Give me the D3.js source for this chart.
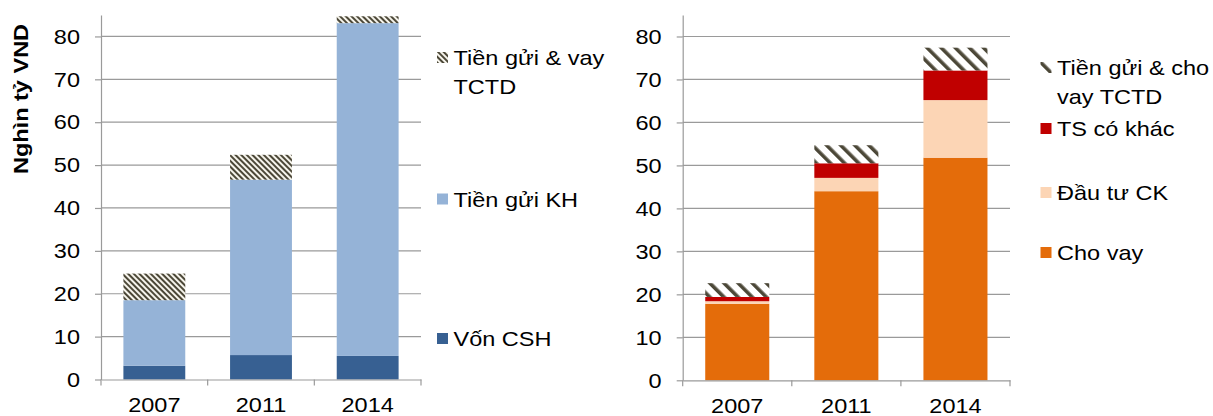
<!DOCTYPE html>
<html>
<head>
<meta charset="utf-8">
<script src="https://cdn.jsdelivr.net/npm/d3@7"></script>
<style>
  html, body { margin: 0; padding: 0; background: #fff; }
  svg { display: block; }
  text { font-family: "Liberation Sans", Arial, sans-serif; fill: #000; }
</style>
</head>
<body>
<svg id="chart" width="1213" height="416"></svg>
<script>
// Years on the category axis
const years = ["2007", "2011", "2014"];

// Left panel: funding sources (nghìn tỷ VND)
const vonCSH = [3.2, 5.7, 5.5];
const tienGuiKH = [15.3, 40.9, 77.6];
const tienGuiVayTCTD = [6.2, 5.8, 1.6];

// Right panel: asset uses (nghìn tỷ VND)
const choVay = [17.8, 44.0, 51.8];
const dauTuCK = [0.6, 3.1, 13.4];
const tsCoKhac = [1.0, 3.4, 6.9];
const tienGuiChoVayTCTD = [3.2, 4.2, 5.3];

// Value axis
const yTicks = [0, 10, 20, 30, 40, 50, 60, 70, 80];
const yMax = 85;

const leftSeries = [
  { key: "Vốn CSH", values: vonCSH, fill: "#376092" },
  { key: "Tiền gửi KH", values: tienGuiKH, fill: "#95b3d7" },
  { key: "Tiền gửi & vay TCTD", values: tienGuiVayTCTD, fill: "url(#hatchFine)" }
];
const rightSeries = [
  { key: "Cho vay", values: choVay, fill: "#e46c0a" },
  { key: "Đầu tư CK", values: dauTuCK, fill: "#fcd5b5" },
  { key: "TS có khác", values: tsCoKhac, fill: "#c00000" },
  { key: "Tiền gửi & cho vay TCTD", values: tienGuiChoVayTCTD, fill: "url(#hatchWide)" }
];

// Text is drawn slightly wide
const SX = 1.12;
const FS = 21;
const gridColor = "#9a9a9a";

const svg = d3.select("#chart");
const defs = svg.append("defs");

function hatch(id, period, dark, bg) {
  const p = defs.append("pattern")
    .attr("id", id)
    .attr("patternUnits", "userSpaceOnUse")
    .attr("width", period).attr("height", period)
    .attr("patternTransform", "rotate(-45)");
  p.append("rect").attr("width", period).attr("height", period).attr("fill", bg);
  p.append("rect").attr("width", dark).attr("height", period).attr("fill", "#4c4838");
}
hatch("hatchFine", 4, 2, "#f6f4ec");
hatch("hatchWide", 10, 3.6, "#ffffff");

function panel(cfg) {
  const g = svg.append("g");
  const x = d3.scaleBand().domain(years)
    .range([cfg.x0, cfg.x1])
    .paddingInner(cfg.padIn).paddingOuter(cfg.padIn / 2);
  const y = d3.scaleLinear().domain([0, yMax]).range([cfg.yBase, cfg.yTop]);

  // gridlines
  g.append("g").selectAll("line")
    .data(yTicks.filter(d => d > 0))
    .join("line")
    .attr("x1", cfg.x0).attr("x2", cfg.x1)
    .attr("y1", d => y(d)).attr("y2", d => y(d))
    .attr("stroke", gridColor).attr("stroke-width", 1.2);

  // stacked bars
  const table = years.map((yr, i) => {
    const row = { year: yr };
    cfg.series.forEach(s => { row[s.key] = s.values[i]; });
    return row;
  });
  const stacked = d3.stack().keys(cfg.series.map(s => s.key))(table);
  g.append("g").selectAll("g")
    .data(stacked)
    .join("g")
    .attr("fill", (d, i) => cfg.series[i].fill)
    .selectAll("rect")
    .data(d => d)
    .join("rect")
    .attr("x", d => x(d.data.year))
    .attr("width", x.bandwidth())
    .attr("y", d => y(d[1]))
    .attr("height", d => y(d[0]) - y(d[1]));

  // value axis
  const yAxis = g.append("g")
    .attr("transform", `translate(${cfg.x0},0)`)
    .call(d3.axisLeft(y).tickValues(yTicks).tickSizeInner(6).tickSizeOuter(0).tickPadding(15));
  yAxis.select(".domain").attr("stroke", gridColor).attr("stroke-width", 1.2);
  yAxis.selectAll(".tick line").attr("stroke", gridColor).attr("stroke-width", 1.2);
  yAxis.selectAll(".tick text")
    .attr("x", -21 / SX)
    .attr("transform", `scale(${SX},1)`)
    .style("font-size", FS + "px")
    .style("font-family", "'Liberation Sans', Arial, sans-serif")
    .attr("fill", "#000");

  // category axis
  const xAxis = g.append("g")
    .attr("transform", `translate(0,${cfg.yBase})`)
    .call(d3.axisBottom(x).tickSize(0).tickPadding(18));
  xAxis.select(".domain").attr("stroke", gridColor).attr("stroke-width", 1.2);
  xAxis.selectAll(".tick text")
    .attr("transform", `scale(${SX},1)`)
    .style("font-size", FS + "px")
    .style("font-family", "'Liberation Sans', Arial, sans-serif")
    .attr("fill", "#000");
  const step = x.step();
  xAxis.append("g").selectAll("line")
    .data(d3.range(years.length + 1))
    .join("line")
    .attr("x1", i => cfg.x0 + i * step).attr("x2", i => cfg.x0 + i * step)
    .attr("y1", 0).attr("y2", 6)
    .attr("stroke", gridColor).attr("stroke-width", 1.2);

  // legend
  const lg = g.append("g");
  cfg.legend.forEach(item => {
    const s = cfg.series.find(d => d.key === item.key);
    lg.append("rect")
      .attr("x", cfg.legendX).attr("y", item.baseline - 13)
      .attr("width", 11).attr("height", 11)
      .attr("fill", s.fill);
    item.lines.forEach((line, j) => {
      lg.append("text")
        .attr("transform", `translate(${cfg.legendX + 16.5},${item.baseline + j * 28.5}) scale(${SX},1)`)
        .style("font-size", FS + "px")
        .text(line);
    });
  });
}

panel({
  series: leftSeries,
  x0: 101, x1: 421, yBase: 379.5, yTop: 15, padIn: 0.42,
  legendX: 437,
  legend: [
    { key: "Tiền gửi & vay TCTD", lines: ["Tiền gửi & vay", "TCTD"], baseline: 65 },
    { key: "Tiền gửi KH", lines: ["Tiền gửi KH"], baseline: 206.5 },
    { key: "Vốn CSH", lines: ["Vốn CSH"], baseline: 346 }
  ]
});

panel({
  series: rightSeries,
  x0: 682.7, x1: 1010, yBase: 380.3, yTop: 15, padIn: 0.413,
  legendX: 1040.5,
  legend: [
    { key: "Tiền gửi & cho vay TCTD", lines: ["Tiền gửi & cho", "vay TCTD"], baseline: 75 },
    { key: "TS có khác", lines: ["TS có khác"], baseline: 136 },
    { key: "Đầu tư CK", lines: ["Đầu tư CK"], baseline: 200 },
    { key: "Cho vay", lines: ["Cho vay"], baseline: 260 }
  ]
});

// axis title
svg.append("text")
  .attr("transform", `translate(28,99) rotate(-90) scale(${SX},1)`)
  .attr("text-anchor", "middle")
  .style("font-size", FS + "px")
  .style("font-weight", "bold")
  .text("Nghìn tỷ VND");
</script>
</body>
</html>
